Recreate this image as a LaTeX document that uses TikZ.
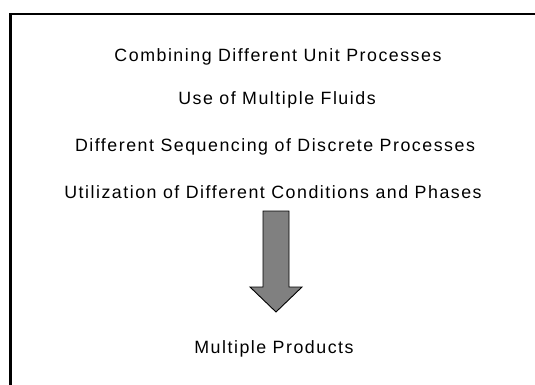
\documentclass[tikz,border=0pt]{standalone}
\usepackage{fontspec}
\setmainfont{Liberation Sans}[LetterSpace=8.5]
\definecolor{arrowgray}{RGB}{128,128,128}
\begin{document}
\begin{tikzpicture}[x=1pt,y=-1pt,
  label/.style={inner sep=0pt,anchor=center,font=\fontsize{17.8}{17.8}\selectfont}]
  \useasboundingbox (0,0) rectangle (535,385);
  \fill[white] (0,0) rectangle (535,385);
  % frame (its right and bottom sides lie beyond the page)
  \draw[line width=2.8pt] (10.5,400) -- (10.5,14) -- (560,14);
  % list of approaches
  \node[label] (t1) at (278,57)  {Combining Different Unit Processes};
  \node[label] (t2) at (277,100) {Use of Multiple Fluids};
  \node[label] (t3) at (275,147) {Different Sequencing of Discrete Processes};
  \node[label] (t4) at (273,192) {Utilization of Different Conditions and Phases};
  % block arrow
  \draw[fill=arrowgray,line width=0.9pt,line join=miter]
    (263,211) -- (289,211) -- (289,287) -- (302,287) -- (276,312)
    -- (250,287) -- (263,287) -- cycle;
  \node[label] (t5) at (274,349) {Multiple Products};
\end{tikzpicture}
\end{document}
